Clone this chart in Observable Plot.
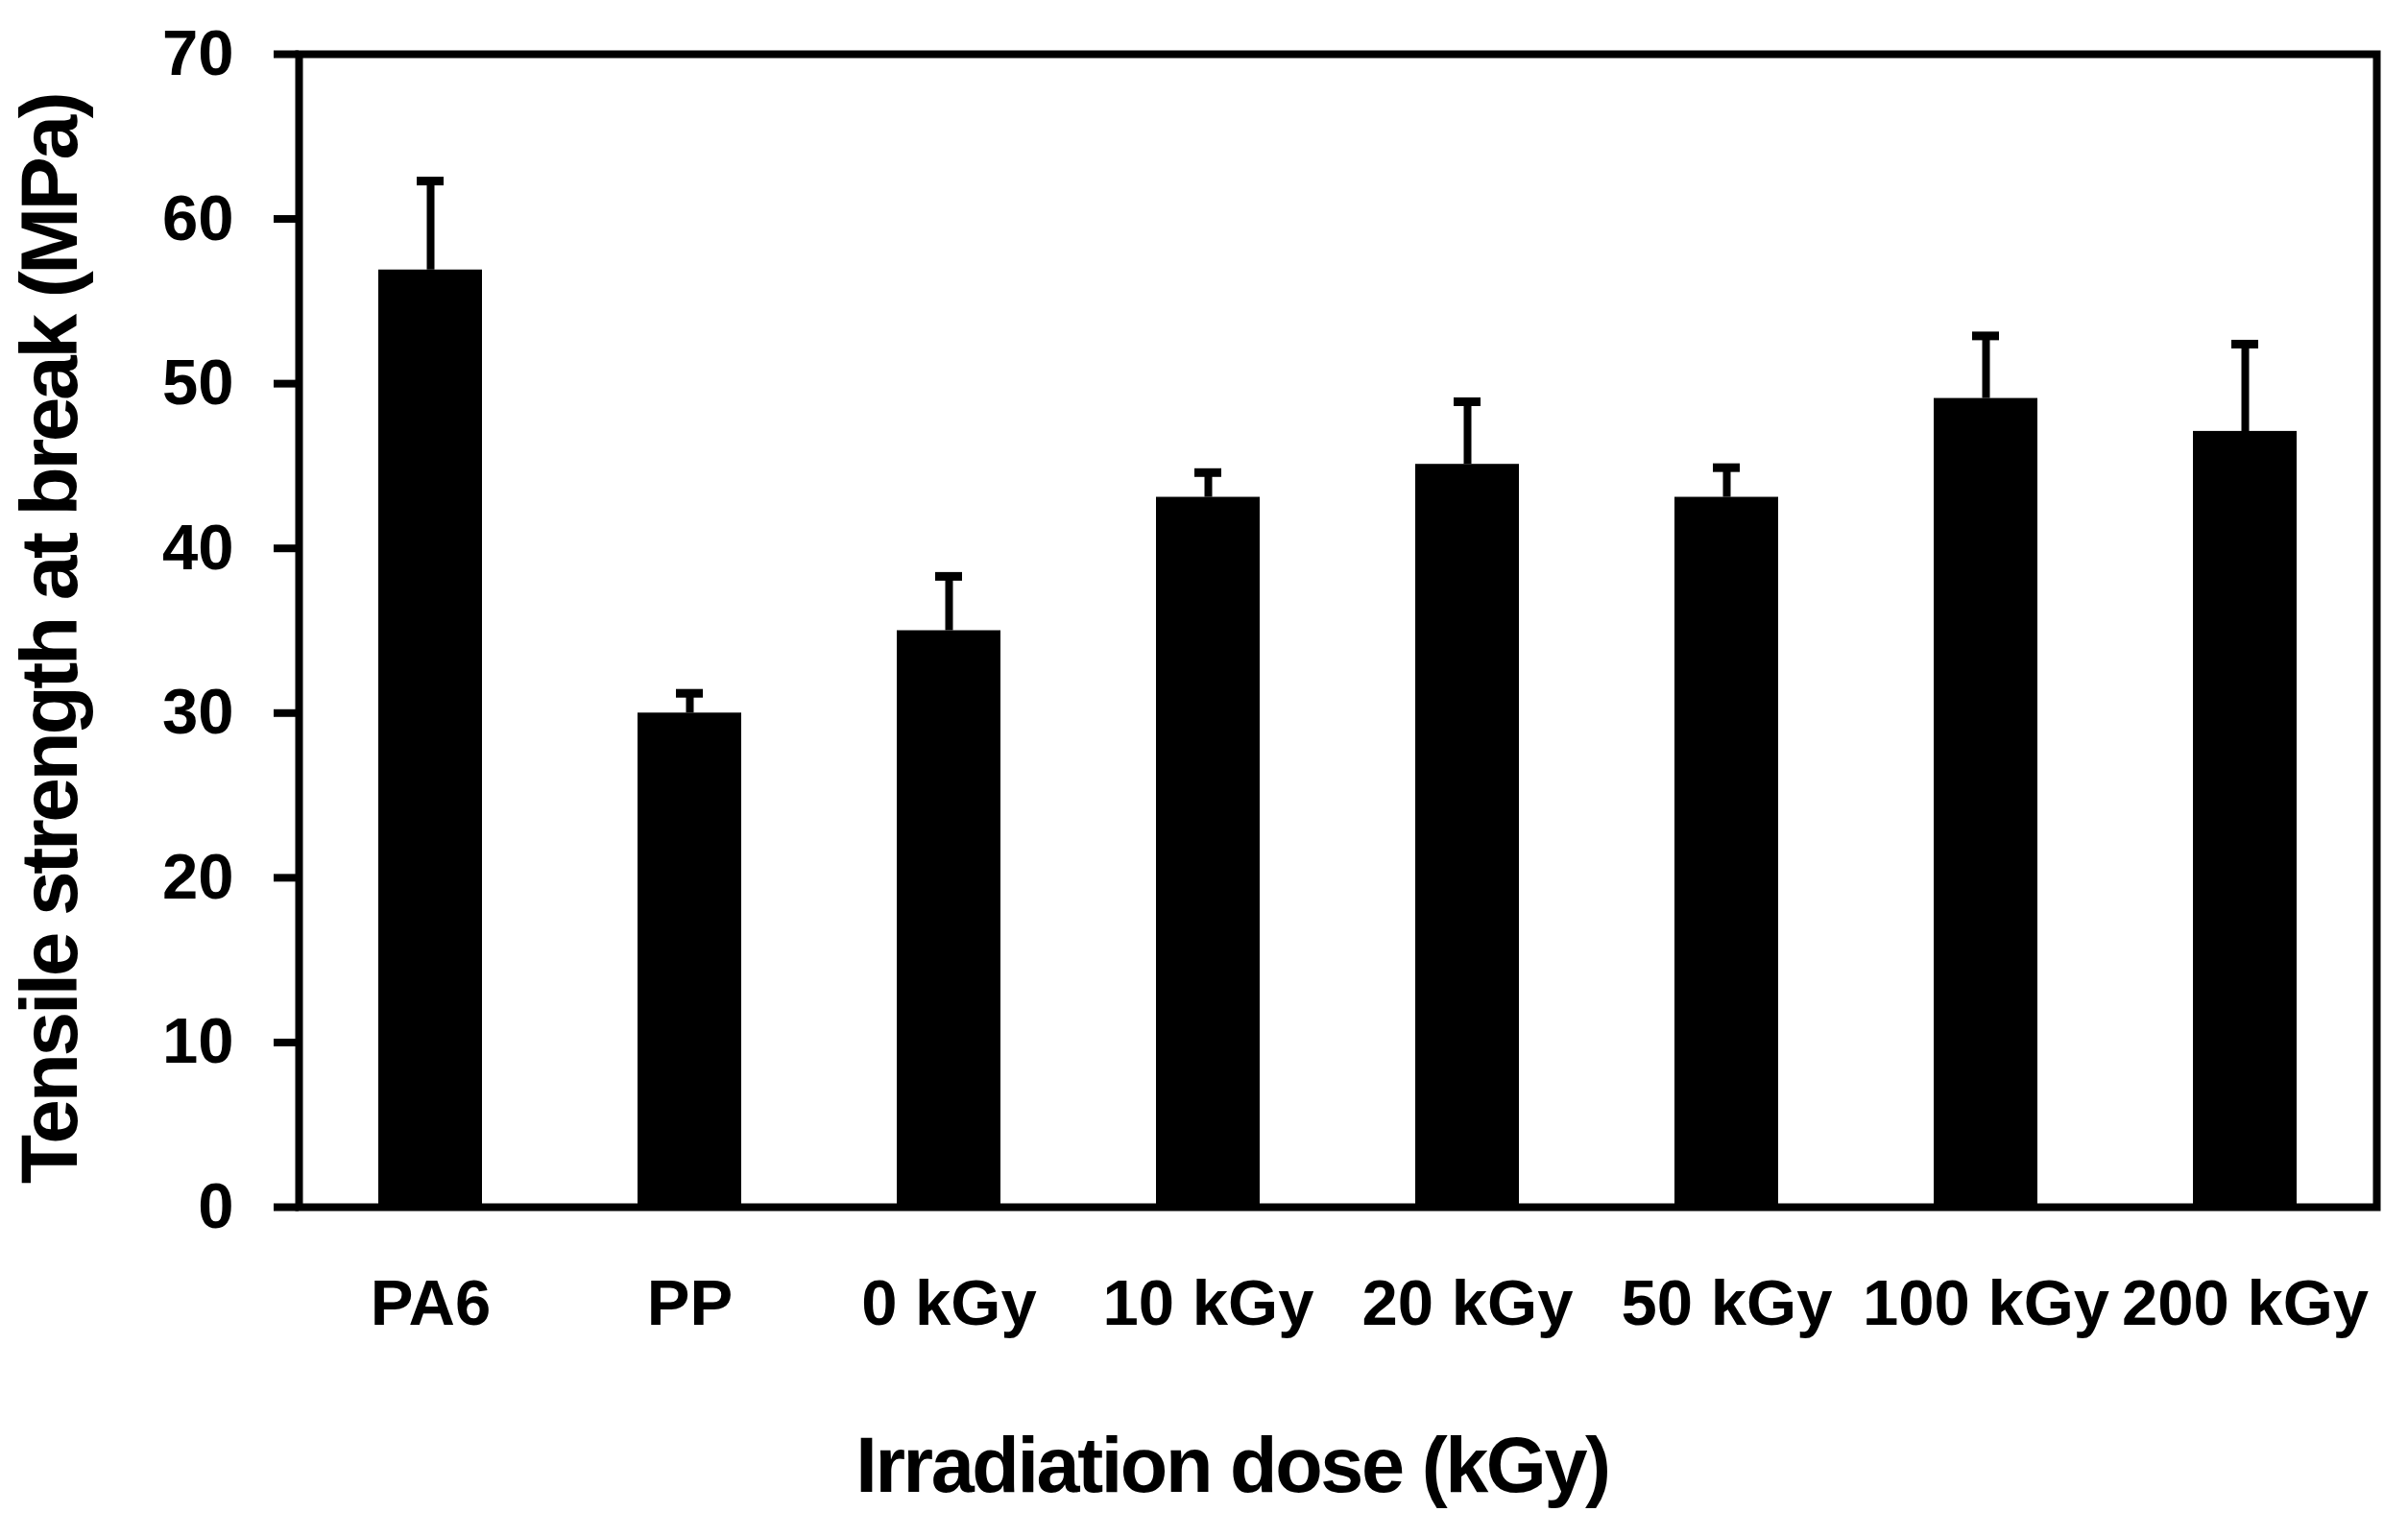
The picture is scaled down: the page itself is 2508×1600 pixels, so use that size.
<!DOCTYPE html>
<html>
<head>
<meta charset="utf-8">
<script src="https://cdn.jsdelivr.net/npm/d3@7"></script>
<script src="https://cdn.jsdelivr.net/npm/@observablehq/plot@0.6"></script>
<style>
  html, body { margin: 0; padding: 0; background: #fff; overflow: hidden; }
  #chart svg { display: block; }
</style>
</head>
<body>
<div id="chart"></div>
<script>
const categories = ["PA6", "PP", "0 kGy", "10 kGy", "20 kGy", "50 kGy", "100 kGy", "200 kGy"];
const strength   = [56.9, 30.0, 35.0, 43.1, 45.1, 43.1, 49.1, 47.1];
const errorUp    = [5.4, 1.2, 3.3, 1.5, 3.8, 1.8, 3.8, 5.3];
const yTicks     = [0, 10, 20, 30, 40, 50, 60, 70];
const xTitle = "Irradiation dose (kGy)";
const yTitle = "Tensile strength at break (MPa)";

const data = categories.map((c, i) => ({cat: c, value: strength[i], upper: strength[i] + errorUp[i]}));

const font = "'Liberation Sans', Arial, Helvetica, sans-serif";

const chart = Plot.plot({
  width: 2508,
  height: 1600,
  marginLeft: 311,
  marginRight: 33,
  marginTop: 56,
  marginBottom: 343,
  style: {fontFamily: font, fontWeight: "bold", background: "#fff", color: "#000"},
  x: {type: "band", domain: categories, paddingInner: 0.6, paddingOuter: 0.3, align: 0.5},
  y: {domain: [0, 70]},
  marks: [
    Plot.ruleX(data, {x: "cat", y1: "value", y2: "upper", stroke: "black", strokeWidth: 8}),
    Plot.tickY(data, {x: "cat", y: "upper", stroke: "black", strokeWidth: 9, insetLeft: 40, insetRight: 40}),
    Plot.barY(data, {x: "cat", y: "value", fill: "black"}),
    Plot.frame({stroke: "black", strokeWidth: 8}),
    Plot.axisY({ticks: yTicks, tickSize: 26, tickPadding: 42, strokeWidth: 8, fontSize: 67, fontWeight: "bold", label: null, tickFormat: d => String(d)}),
    Plot.axisX({tickSize: 0, tickPadding: 75, fontSize: 67, fontWeight: "bold", label: null}),
    Plot.text([yTitle], {frameAnchor: "left", text: d => d, rotate: -90, dx: -258, dy: 9, fontSize: 84, fontWeight: "bold", textAnchor: "middle", fill: "black"}),
    Plot.text([xTitle], {frameAnchor: "bottom", text: d => d, dx: -110, dy: 296, fontSize: 81, fontWeight: "bold", textAnchor: "middle", fill: "black"})
  ]
});

d3.select(chart).selectAll("text").filter(function() { return d3.select(this).text() === xTitle; }).style("letter-spacing", "-2.4px");
d3.select(chart).selectAll("text").filter(function() { return d3.select(this).text() === yTitle; }).style("letter-spacing", "-3.4px");

document.getElementById("chart").appendChild(chart);
</script>
</body>
</html>
